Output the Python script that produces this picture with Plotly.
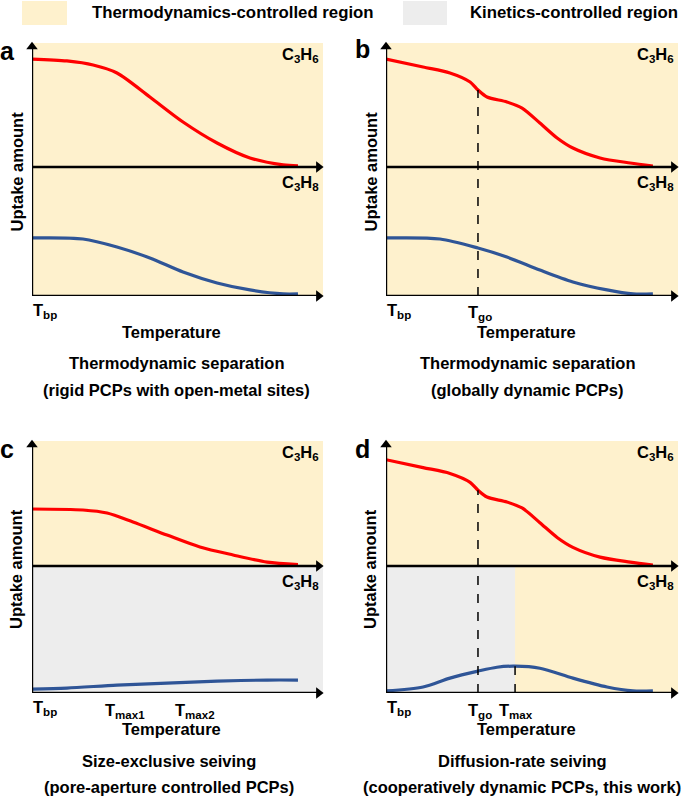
import plotly.graph_objects as go

W, H = 685, 797

# ---- data (x: fraction of temperature axis, y: uptake, C3H8 axis = 1) ----
a_x_red = [0, 0.120, 0.210, 0.292, 0.405, 0.519, 0.636, 0.749, 0.863, 0.914]
a_y_red = [1.837, 1.822, 1.791, 1.729, 1.543, 1.349, 1.186, 1.070, 1.016, 1.008]
a_x_blue = [0, 0.175, 0.292, 0.405, 0.519, 0.636, 0.749, 0.863, 0.914]
a_y_blue = [0.450, 0.442, 0.380, 0.295, 0.186, 0.101, 0.047, 0.016, 0.016]

b_x_red = [0, 0.127, 0.219, 0.288, 0.315, 0.346, 0.414, 0.466, 0.527, 0.586, 0.640, 0.733, 0.836, 0.914]
b_y_red = [1.837, 1.775, 1.729, 1.659, 1.597, 1.543, 1.504, 1.457, 1.341, 1.225, 1.147, 1.070, 1.031, 1.008]
b_x_blue = [0, 0.185, 0.315, 0.414, 0.527, 0.640, 0.757, 0.846, 0.914]
b_y_blue = [0.450, 0.442, 0.372, 0.302, 0.201, 0.109, 0.047, 0.016, 0.016]

c_x_red = [0, 0.175, 0.258, 0.347, 0.464, 0.577, 0.691, 0.808, 0.914]
c_y_red = [1.449, 1.441, 1.417, 1.346, 1.244, 1.150, 1.087, 1.031, 1.012]
c_x_blue = [0, 0.120, 0.292, 0.464, 0.636, 0.808, 0.914]
c_y_blue = [0.031, 0.039, 0.062, 0.078, 0.094, 0.102, 0.102]

d_x_red = b_x_red
d_y_red = b_y_red
d_x_blue = [0, 0.127, 0.219, 0.315, 0.380, 0.442, 0.527, 0.640, 0.757, 0.846, 0.914]
d_y_blue = [0.016, 0.047, 0.117, 0.172, 0.203, 0.211, 0.195, 0.117, 0.047, 0.016, 0.016]

T_GO = 0.315
T_MAX = 0.442

RED = "#FF0000"
BLUE = "#2F5597"
YELLOW = "#FEF1CD"
GRAY = "#EDEDED"
FONT = "Liberation Sans, Arial, sans-serif"

# panel geometry in pixels: left, right, top, mid(C3H8 axis), bottom
panels = {
    "a": dict(l=32, r=323, t=43, m=167, b=296),
    "b": dict(l=386, r=678, t=43, m=167, b=296),
    "c": dict(l=32, r=323, t=441, m=566, b=693),
    "d": dict(l=386, r=678, t=441, m=566, b=693),
}
curves = {
    "a": (a_x_red, a_y_red, a_x_blue, a_y_blue),
    "b": (b_x_red, b_y_red, b_x_blue, b_y_blue),
    "c": (c_x_red, c_y_red, c_x_blue, c_y_blue),
    "d": (d_x_red, d_y_red, d_x_blue, d_y_blue),
}


def px(x):
    return x / W


def py(y):
    return 1 - y / H


fig = go.Figure()
shapes = []
annots = []


def txt(x, y, s, size=16.5, xanchor="center", angle=0):
    annots.append(dict(x=px(x), y=py(y), xref="paper", yref="paper", text=s,
                       showarrow=False, xanchor=xanchor, yanchor="middle",
                       textangle=angle,
                       font=dict(family=FONT, size=size, color="black", weight="bold")))


for i, (key, g) in enumerate(panels.items()):
    n = "" if i == 0 else str(i + 1)
    xa, ya = "x" + n, "y" + n
    R = (g["b"] - g["t"]) / (g["b"] - g["m"])
    fig.layout["xaxis" + n] = dict(domain=[px(g["l"]), px(g["r"])], range=[0, 1],
                                    visible=False, anchor=ya)
    fig.layout["yaxis" + n] = dict(domain=[py(g["b"]), py(g["t"])], range=[0, R],
                                    visible=False, anchor=xa)

    # background regions
    shapes.append(dict(type="rect", xref=xa, yref=ya, x0=0, x1=1, y0=1, y1=R,
                       fillcolor=YELLOW, line_width=0, layer="below"))
    if key in ("a", "b"):
        shapes.append(dict(type="rect", xref=xa, yref=ya, x0=0, x1=1, y0=0, y1=1,
                           fillcolor=YELLOW, line_width=0, layer="below"))
    elif key == "c":
        shapes.append(dict(type="rect", xref=xa, yref=ya, x0=0, x1=1, y0=0, y1=1,
                           fillcolor=GRAY, line_width=0, layer="below"))
    else:
        shapes.append(dict(type="rect", xref=xa, yref=ya, x0=0, x1=T_MAX, y0=0, y1=1,
                           fillcolor=GRAY, line_width=0, layer="below"))
        shapes.append(dict(type="rect", xref=xa, yref=ya, x0=T_MAX, x1=1, y0=0, y1=1,
                           fillcolor=YELLOW, line_width=0, layer="below"))

    xr, yr, xb, yb = curves[key]
    fig.add_trace(go.Scatter(x=xr, y=yr, mode="lines", xaxis=xa, yaxis=ya,
                             line=dict(color=RED, width=3.2, shape="spline", smoothing=0.8),
                             showlegend=False, hoverinfo="skip"))
    fig.add_trace(go.Scatter(x=xb, y=yb, mode="lines", xaxis=xa, yaxis=ya,
                             line=dict(color=BLUE, width=3.2, shape="spline", smoothing=0.8),
                             showlegend=False, hoverinfo="skip"))

    # dashed markers
    if key in ("b", "d"):
        k = xr.index(T_GO)
        shapes.append(dict(type="line", xref=xa, yref=ya, x0=T_GO, x1=T_GO, y0=0, y1=yr[k],
                           line=dict(color="black", width=1.5, dash="dash")))
    if key == "d":
        k = xb.index(T_MAX)
        shapes.append(dict(type="line", xref=xa, yref=ya, x0=T_MAX, x1=T_MAX, y0=0, y1=yb[k],
                           line=dict(color="black", width=1.5, dash="dash")))

    # axes lines + arrow heads
    for (x0, y0, x1, y1) in [(0, 0, 0, R * 0.985), (0, 1, 0.985, 1), (0, 0, 0.985, 0)]:
        shapes.append(dict(type="line", xref=xa, yref=ya, x0=x0, y0=y0, x1=x1, y1=y1,
                           line=dict(color="black", width=2.4)))
    fig.add_trace(go.Scatter(x=[0, 0.985, 0.985], y=[R * 0.985, 1, 0], mode="markers",
                             xaxis=xa, yaxis=ya, cliponaxis=False,
                             marker=dict(symbol=["triangle-up", "triangle-right", "triangle-right"],
                                         size=10, color="black", line_width=0),
                             showlegend=False, hoverinfo="skip"))

    # labels inside the panel
    txt(g["r"] - 2, g["t"] + 12, "C<sub>3</sub>H<sub>6</sub>", xanchor="right")
    txt(g["r"] - 2, g["m"] + 16, "C<sub>3</sub>H<sub>8</sub>", xanchor="right")
    txt(g["l"] - 16, (g["t"] + g["b"]) / 2 + 2, "Uptake amount", angle=-90)
    txt(g["l"] - 1, g["b"] + 15, "T<sub>bp</sub>", xanchor="left")
    txt((g["l"] + g["r"]) / 2 - 6, g["b"] + 36, "Temperature")

# panel letters
txt(7, 51, "a", size=25)
txt(362, 49, "b", size=25)
txt(7, 449, "c", size=25)
txt(362, 449, "d", size=25)

# extra tick labels
txt(480, 313, "T<sub>go</sub>")
txt(125, 711, "T<sub>max1</sub>")
txt(195, 711, "T<sub>max2</sub>")
txt(480, 711, "T<sub>go</sub>")
txt(516, 711, "T<sub>max</sub>")

# captions
txt(176, 363, "Thermodynamic separation")
txt(176, 390, "(rigid PCPs with open-metal sites)")
txt(527, 363, "Thermodynamic separation")
txt(527, 390, "(globally dynamic PCPs)")
txt(169, 761, "Size-exclusive seiving")
txt(169, 787, "(pore-aperture controlled PCPs)")
txt(522, 761, "Diffusion-rate seiving")
txt(522, 787, "(cooperatively dynamic PCPs, this work)")

# region legend
shapes.append(dict(type="rect", xref="paper", yref="paper", x0=px(22), x1=px(67),
                   y0=py(25), y1=py(1), fillcolor=YELLOW, line_width=0))
shapes.append(dict(type="rect", xref="paper", yref="paper", x0=px(403), x1=px(447),
                   y0=py(25), y1=py(1), fillcolor=GRAY, line_width=0))
txt(90, 12, "Thermodynamics-controlled region", size=16.8, xanchor="left")
txt(468, 12, "Kinetics-controlled region", size=16.8, xanchor="left")

fig.update_layout(width=W, height=H, margin=dict(l=0, r=0, t=0, b=0),
                  paper_bgcolor="white", plot_bgcolor="rgba(0,0,0,0)",
                  shapes=shapes, annotations=annots, showlegend=False,
                  font=dict(family=FONT, color="black"))

fig.write_html("out.html", config={"displayModeBar": False},
               post_script="document.body.style.margin='0';document.body.style.overflow='hidden';")
